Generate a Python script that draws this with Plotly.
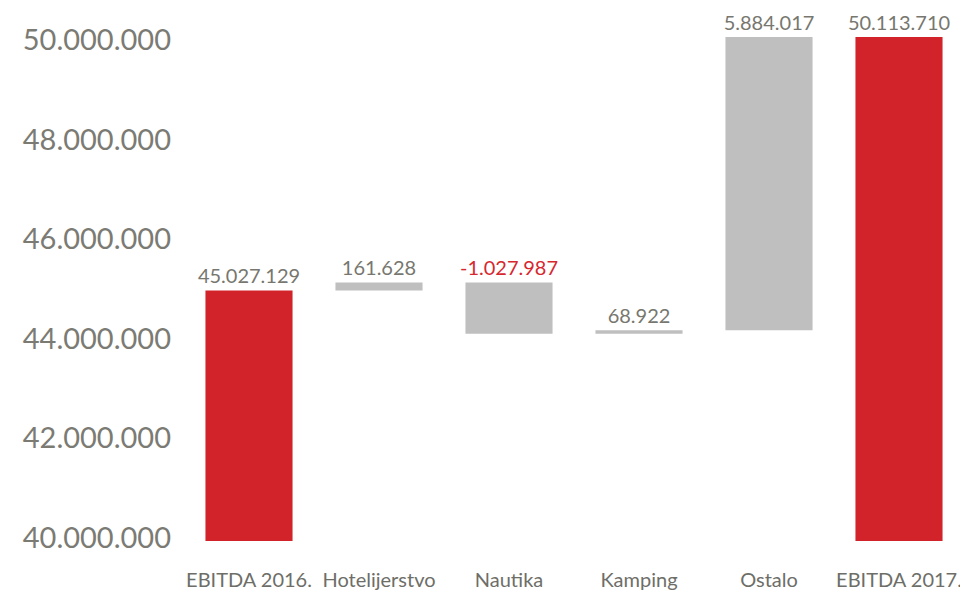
import plotly.graph_objects as go

categories = ["EBITDA 2016.", "Hotelijerstvo", "Nautika", "Kamping", "Ostalo", "EBITDA 2017."]
start_total = 45027129
changes = [161628, -1027987, 68922, 5884017]
end_total = 50113710
labels = ["45.027.129", "161.628", "-1.027.987", "68.922", "5.884.017", "50.113.710"]

RED = "#D2232A"
GREY = "#BFBFBF"

# floating bars: base + height, built from the running total
bases = [0]
heights = [start_total]
running = start_total
for c in changes:
    lo = min(running, running + c)
    bases.append(lo)
    heights.append(abs(c))
    running += c
bases.append(0)
heights.append(end_total)

colors = [RED] + [GREY] * len(changes) + [RED]
text_colors = ["#77776f" if i == 0 or i == len(categories) - 1 or changes[i - 1] >= 0 else "#D7282F"
               for i in range(len(categories))]

fig = go.Figure(go.Bar(
    x=categories,
    y=heights,
    base=bases,
    marker=dict(color=colors, line=dict(width=0)),
    text=labels,
    textposition="outside",
    constraintext="none",
    textfont=dict(family="Lato", size=20, color=text_colors),
    hoverinfo="skip",
))

# page body has an 8px margin, so the figure is 8px smaller than the window
fig.update_layout(
    width=960, height=587,
    margin=dict(l=176, r=4, t=0, b=54),
    plot_bgcolor="white", paper_bgcolor="white",
    bargap=0.33,
    showlegend=False,
    font=dict(family="Lato"),
)
fig.update_yaxes(
    range=[40_000_000, 50_696_000],
    tickvals=[40e6, 42e6, 44e6, 46e6, 48e6, 50e6],
    ticktext=["40.000.000", "42.000.000", "44.000.000", "46.000.000", "48.000.000", "50.000.000"],
    showgrid=False, zeroline=False, showline=False,
    tickfont=dict(family="Lato", size=29, color="#7b7b74"),
    ticklabelstandoff=12,
    ticklabelshift=-3,
    automargin=False,
)
fig.update_xaxes(
    showgrid=False, showline=False,
    tickfont=dict(family="Lato", size=20, color="#6e6e68"),
    tickangle=0,
    ticklabelstandoff=25,
    automargin=False,
)

fig.write_html("out.html")
